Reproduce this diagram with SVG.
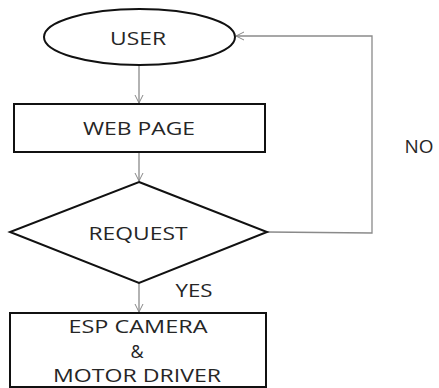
<svg xmlns="http://www.w3.org/2000/svg" width="439" height="388" viewBox="0 0 439 388">
<defs>
<marker id="arr" markerWidth="10" markerHeight="10" refX="9" refY="5" orient="auto" markerUnits="userSpaceOnUse">
<path d="M1,1 L9,5 L1,9" fill="none" stroke="#888" stroke-width="1"/>
</marker>
<style>
.shape{fill:#fff;stroke:#111;stroke-width:2}
.conn{fill:none;stroke:#8a8a8a;stroke-width:1.3}
.t{font-family:"Open Sans","Liberation Sans",Arial,sans-serif;font-size:18px;fill:#262626;text-anchor:middle}
</style>
</defs>
<rect width="439" height="388" fill="#fff"/>
<g id="connectors">
<line class="conn" x1="139" y1="65" x2="139" y2="103" marker-end="url(#arr)"/>
<line class="conn" x1="139" y1="152" x2="139" y2="181" marker-end="url(#arr)"/>
<line class="conn" x1="139" y1="283" x2="139" y2="312" marker-end="url(#arr)"/>
<polyline class="conn" points="267,232 372,233 372,36 236,36" marker-end="url(#arr)"/>
<text class="t" x="194" y="297" textLength="37" lengthAdjust="spacingAndGlyphs">YES</text>
<text class="t" x="419" y="153" textLength="29" lengthAdjust="spacingAndGlyphs">NO</text>
</g>
<g id="user">
<ellipse class="shape" cx="139.5" cy="37" rx="95.5" ry="28"/>
<text class="t" x="138" y="45" textLength="56" lengthAdjust="spacingAndGlyphs">USER</text>
</g>
<g id="webpage">
<rect class="shape" x="14" y="104" width="251" height="48"/>
<text class="t" x="139" y="135" textLength="112" lengthAdjust="spacingAndGlyphs">WEB PAGE</text>
</g>
<g id="request">
<polygon class="shape" points="139,182 267,232 139,283 10,232"/>
<text class="t" x="138" y="240" textLength="99" lengthAdjust="spacingAndGlyphs">REQUEST</text>
</g>
<g id="esp">
<rect class="shape" x="10" y="313" width="256" height="74"/>
<text class="t" x="138" y="333" textLength="139" lengthAdjust="spacingAndGlyphs">ESP CAMERA</text>
<text class="t" x="137" y="358">&amp;</text>
<text class="t" x="137" y="382" textLength="168" lengthAdjust="spacingAndGlyphs">MOTOR DRIVER</text>
</g>
</svg>
